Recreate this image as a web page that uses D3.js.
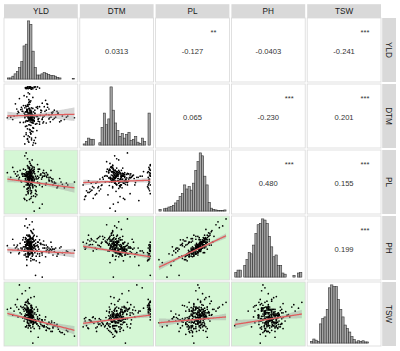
<!DOCTYPE html>
<html lang="en">
<head>
<meta charset="UTF-8">
<title>Pairs plot</title>
<script src="https://d3js.org/d3.v7.min.js"></script>
<style>
  body { margin: 0; background: #fff; }
  svg { display: block; font-family: "Liberation Sans", Arial, sans-serif; }
</style>
</head>
<body>
<script>
// variables (scaled 0-100 between observed min and max)
const vars = ["YLD", "DTM", "PL", "PH", "TSW"];

const yld = [33,28,36,41,30,25,38,34,45,31, 35,29,32,37,22,40,33,27,31,36, 30,34,38,27,42,33,36,29,45,31,
  32,36,28,40,34,25,38,30,44,35, 55,62,70,58,75,52,65,80,60,68, 34,31,26,38,33,29,36,42,24,35,
  37,30,33,20,39,32,27,35,43,34, 40,33,48,36,29,52,31,38,44,35, 33,30,36,28,34,39,26,32,37,31,
  22,35,18,30,40,27,15,33,46,38, 10,14,8,17,12,19,5,16,21,0, 35,32,29,37,34,31,36,28,33,30,
  47,50,45,54,49,57,46,51,48,53, 36,28,40,33,25,31,38,35,48,30, 33,26,39,31,35,23,37,30,41,34,
  30,38,34,27,42,33,29,36,31,39, 62,72,58,85,66,55,90,64,56,100, 34,32,37,29,35,33,31,36,28,34,
  33,35,31,36,30,34,38,32,29,37, 27,39,33,35,24,41,30,36,32,43, 46,58,50,63,48,53,67,45,59,52,
  33,29,37,35,31,40,27,34,43,36, 32,34,36,30,33,35,31,38,34,29, 31,36,28,39,33,42,26,35,30,38,
  34,30,37,33,28,35,40,32,26,36, 70,76,62,82,68,74,60,88,66,78];
const dtm = [45,52,48,60,41,55,38,47,66,50, 43,58,35,49,62,46,70,40,53,44, 98,100,97,99,100,98,96,99,100,97,
  5,12,18,8,22,15,0,10,25,20, 50,45,60,38,55,72,48,42,65,57, 55,47,64,42,75,51,58,36,68,44,
  39,56,46,61,43,78,52,34,49,59, 48,62,40,55,83,45,70,52,37,60, 35,50,44,66,40,57,47,73,53,42,
  58,46,80,52,41,68,54,88,45,63, 50,62,44,56,71,39,48,58,65,47, 52,47,60,44,57,50,64,42,54,49,
  46,56,63,40,51,77,44,59,36,48, 99,97,100,98,85,90,82,99,98,100, 45,53,38,67,49,58,43,61,55,74,
  28,30,26,32,3,14,33,24,7,29, 52,48,60,44,56,66,50,40,58,47, 48,55,42,59,46,63,51,39,57,45,
  44,50,47,53,41,56,48,45,60,51, 57,43,62,48,39,54,69,46,51,65, 41,53,60,47,66,38,55,49,71,44,
  100,98,99,97,100,99,98,100,96,99, 49,45,52,58,43,47,55,50,46,62, 16,9,21,4,27,13,2,19,11,23,
  53,67,45,59,50,76,42,63,48,56, 46,55,62,50,44,58,70,48,53,40];
const pl = [59,66,52,64,55,42,69,62,49,74, 56,60,68,46,63,54,57,71,39,61, 55,70,40,62,30,75,66,50,80,58,
  35,48,28,52,40,22,45,38,55,30, 60,55,48,66,42,58,70,50,63,45, 66,58,51,76,62,68,54,60,64,79,
  44,62,58,52,67,49,56,61,34,65, 0,20,5,25,18,12,30,15,28,22, 85,90,78,100,82,70,95,60,88,76,
  65,70,58,62,75,55,68,60,72,52, 68,60,75,55,64,70,58,62,50,66, 60,56,64,52,58,67,54,62,50,65,
  58,64,50,70,62,45,68,55,72,60, 72,45,65,52,60,68,58,35,48,78, 72,63,57,51,68,60,74,48,55,61,
  45,55,38,60,25,42,50,35,32,58, 52,48,60,40,56,65,45,58,62,50, 57,65,53,61,69,55,63,50,59,67,
  54,62,48,66,58,45,70,52,60,64, 60,50,66,56,72,44,58,62,52,57, 56,48,62,52,45,66,50,60,58,42,
  62,38,55,68,45,72,52,60,42,66, 58,64,56,50,68,62,54,60,66,52, 40,32,50,26,44,36,20,48,34,42,
  70,64,58,74,62,56,68,46,64,59, 50,44,58,46,55,40,62,48,52,56];
const ph = [55,62,45,52,50,38,66,48,40,70, 58,50,60,42,48,55,44,65,35,57, 40,52,30,45,3,55,42,35,60,38,
  58,66,50,72,55,45,60,62,70,48, 50,45,48,55,40,42,60,52,47,38, 68,55,48,75,60,72,46,58,52,80,
  46,64,54,50,62,40,56,60,36,58, 30,38,25,42,20,0,35,40,45,28, 90,85,78,100,70,82,88,65,95,72,
  50,58,42,48,62,40,55,45,60,38, 55,52,65,40,50,58,42,48,46,54, 44,50,58,36,52,62,42,55,40,60,
  48,56,44,62,58,35,52,42,64,50, 48,35,50,40,45,42,50,32,36,55, 72,60,55,50,66,64,76,44,53,48,
  60,65,52,68,48,56,62,54,64,70, 42,50,46,38,52,55,44,48,50,46, 56,64,47,58,68,53,61,45,54,66,
  50,58,44,62,55,40,65,46,57,60, 52,46,60,48,68,42,50,58,45,54, 52,44,58,46,40,56,48,55,50,38,
  44,30,40,50,36,56,38,46,28,52, 54,60,50,44,64,56,48,52,62,46, 62,55,66,50,58,64,52,60,56,68,
  66,58,52,70,54,50,62,40,60,48, 44,40,50,42,48,36,52,45,46,50];
const tsw = [40,48,35,52,44,38,47,30,55,42, 50,57,33,46,61,39,52,45,43,36, 60,45,55,70,40,52,65,48,58,75,
  30,38,42,25,35,45,28,40,33,20, 30,25,35,22,28,40,20,18,32,26, 45,55,60,38,50,44,62,35,58,49,
  42,48,39,63,36,56,50,44,37,53, 35,42,28,50,55,30,48,38,33,45, 55,62,48,70,58,45,66,52,60,68,
  85,78,100,72,80,90,75,95,10,0, 55,62,48,58,66,52,60,45,50,58, 48,40,53,45,38,50,57,42,46,35,
  38,32,42,28,35,45,30,40,25,36, 62,58,50,68,55,60,52,65,48,72, 52,47,40,58,49,43,54,61,39,57,
  36,32,40,28,38,44,30,42,26,34, 35,30,22,15,38,28,20,33,40,12, 44,51,37,49,56,41,47,54,43,50,
  46,42,50,39,48,55,44,52,41,47, 58,36,54,44,62,40,60,47,51,49, 40,28,36,25,42,30,20,45,33,38,
  55,64,60,52,70,58,66,50,62,57, 44,50,40,54,46,38,52,48,42,56, 34,40,28,44,30,36,42,26,38,32,
  48,58,45,52,56,62,41,55,47,53, 30,24,36,18,28,32,26,22,35,20];

// histogram counts, 30 bins each
const histYLD = [2,2,5,9,13,20,30,57,60,100,94,48,20,7,7,9,11,10,8,6,6,5,3,2,0,0,0,0,0,1];
const histDTM = [2,6,12,10,10,0,0,4,30,55,35,45,100,60,38,25,15,20,12,18,22,8,10,15,5,3,12,6,0,55];
const histPL = [3,0,4,5,7,8,10,14,18,25,30,45,38,42,36,48,70,85,100,95,60,45,15,5,3,2,1,1,1,2];
const histPH = [8,12,12,0,20,30,42,40,55,75,90,92,100,98,92,70,52,35,38,20,20,7,5,0,0,0,3,0,7,8];
const histTSW = [3,7,5,3,33,42,45,58,95,100,97,97,75,58,45,31,25,19,11,6,2,4,3,4,2,2,0,0,0,0];

// correlations for upper panels, pair order (0,1),(0,2),(0,3),(0,4),(1,2),(1,3),(1,4),(2,3),(2,4),(3,4)
const corText = ["0.0313","-0.127","-0.0403","-0.241","0.065","-0.230","0.201","0.480","0.155","0.199"];
const corStars = ["","**","","***","","***","***","***","***","***"];
// fitted line, y value at x min and x max (same pair order)
const fitStart = [50,55,47,51,49,53,34,17,35,32];
const fitEnd = [53,40,41,22,53,35,48,71,45,50];

const data = {YLD: yld, DTM: dtm, PL: pl, PH: ph, TSW: tsw};
const hists = {YLD: histYLD, DTM: histDTM, PL: histPL, PH: histPH, TSW: histTSW};

const W = 400, H = 351;
const x0 = 4, y0 = 18, pw = 73.8, phh = 64, gap = 2, stripH = 13.8;
const n = vars.length;

const svg = d3.select("body").append("svg").attr("width", W).attr("height", H);

function pairIndex(a, b) {
  let k = 0;
  for (let i = 0; i < n; i++) for (let j = i + 1; j < n; j++) {
    if (i === a && j === b) return k;
    k++;
  }
  return -1;
}

function expand(ext) {
  const d = ext[1] - ext[0];
  return [ext[0] - d * 0.05, ext[1] + d * 0.05];
}

const defs = svg.append("defs");

for (let i = 0; i < n; i++) {
  for (let j = 0; j < n; j++) {
    const left = x0 + j * (pw + gap), top = y0 + i * (phh + gap);
    const xv = data[vars[j]], yv = data[vars[i]];
    const x = d3.scaleLinear().domain(expand(d3.extent(xv))).range([left, left + pw]);
    const y = d3.scaleLinear().domain(expand(d3.extent(yv))).range([top + phh, top]);

    let bg = "#ffffff";
    if (i > j && corStars[pairIndex(j, i)] !== "") bg = "#d5f7d5";
    const id = "clip" + i + j;
    defs.append("clipPath").attr("id", id).append("rect")
      .attr("x", left).attr("y", top).attr("width", pw).attr("height", phh);

    const g = svg.append("g");
    g.append("rect").attr("x", left).attr("y", top).attr("width", pw).attr("height", phh)
      .attr("fill", bg);
    const inner = g.append("g").attr("clip-path", `url(#${id})`);

    if (i === j) {
      const counts = hists[vars[i]];
      const ext = d3.extent(xv);
      const bw = (ext[1] - ext[0]) / counts.length;
      const mx = d3.max(counts);
      const hy = d3.scaleLinear().domain([-mx * 0.05, mx * 1.05]).range([top + phh, top]);
      inner.selectAll("rect.bar").data(counts).join("rect")
        .attr("class", "bar")
        .attr("x", (d, k) => x(ext[0] + k * bw))
        .attr("width", (d, k) => x(ext[0] + (k + 1) * bw) - x(ext[0] + k * bw))
        .attr("y", d => hy(d))
        .attr("height", d => hy(0) - hy(d))
        .attr("fill", "#a8a8a8")
        .attr("stroke", "#333")
        .attr("stroke-width", 0.6);
    } else if (i < j) {
      const k = pairIndex(i, j);
      g.append("text").attr("x", left + pw / 2).attr("y", top + phh / 2 + 3.6)
        .attr("text-anchor", "middle").attr("font-size", "7.6px").attr("fill", "#333")
        .text(corText[k]);
      if (corStars[k]) {
        g.append("text").attr("x", left + pw - 16).attr("y", top + 17)
          .attr("text-anchor", "middle").attr("font-size", "7.6px").attr("fill", "#333")
          .text(corStars[k]);
      }
    } else {
      const k = pairIndex(j, i);
      const xe = d3.extent(xv);
      const a = fitStart[k], b = (fitEnd[k] - fitStart[k]) / (xe[1] - xe[0]);
      const pred = v => a + b * (v - xe[0]);
      const nn = xv.length;
      const mxv = d3.mean(xv);
      const sxx = d3.sum(xv, v => (v - mxv) ** 2);
      const s = Math.sqrt(d3.sum(xv, (v, q) => (yv[q] - pred(v)) ** 2) / (nn - 2));
      const grid = d3.range(0, 81).map(q => xe[0] + (xe[1] - xe[0]) * q / 80);
      const se = v => 1.97 * s * Math.sqrt(1 / nn + (v - mxv) ** 2 / sxx);

      inner.selectAll("circle").data(xv).join("circle")
        .attr("cx", d => x(d)).attr("cy", (d, q) => y(yv[q]))
        .attr("r", 0.85).attr("fill", "#000");

      inner.append("path").datum(grid)
        .attr("d", d3.area().x(v => x(v)).y0(v => y(pred(v) - se(v))).y1(v => y(pred(v) + se(v))))
        .attr("fill", "#999").attr("fill-opacity", 0.4);
      inner.append("path").datum(grid)
        .attr("d", d3.line().x(v => x(v)).y(v => y(pred(v))))
        .attr("fill", "none").attr("stroke", "#e05c5c").attr("stroke-width", 1.3);
    }

    g.append("rect").attr("x", left).attr("y", top).attr("width", pw).attr("height", phh)
      .attr("fill", "none").attr("stroke", "#d9d9d9").attr("stroke-width", 0.8);
  }

  // top strips
  const sl = x0 + i * (pw + gap);
  svg.append("rect").attr("x", sl).attr("y", y0 - stripH).attr("width", pw).attr("height", stripH)
    .attr("fill", "#d9d9d9");
  svg.append("text").attr("x", sl + pw / 2).attr("y", y0 - stripH / 2 + 3)
    .attr("text-anchor", "middle").attr("font-size", "8.2px").attr("fill", "#1a1a1a")
    .text(vars[i]);

  // right strips
  const st = y0 + i * (phh + gap);
  const sx = x0 + n * pw + (n - 1) * gap + 1.2;
  svg.append("rect").attr("x", sx).attr("y", st).attr("width", stripH).attr("height", phh)
    .attr("fill", "#d9d9d9");
  svg.append("text")
    .attr("transform", `translate(${sx + stripH / 2 - 3},${st + phh / 2}) rotate(90)`)
    .attr("text-anchor", "middle").attr("font-size", "8.2px").attr("fill", "#1a1a1a")
    .text(vars[i]);
}
</script>
</body>
</html>
